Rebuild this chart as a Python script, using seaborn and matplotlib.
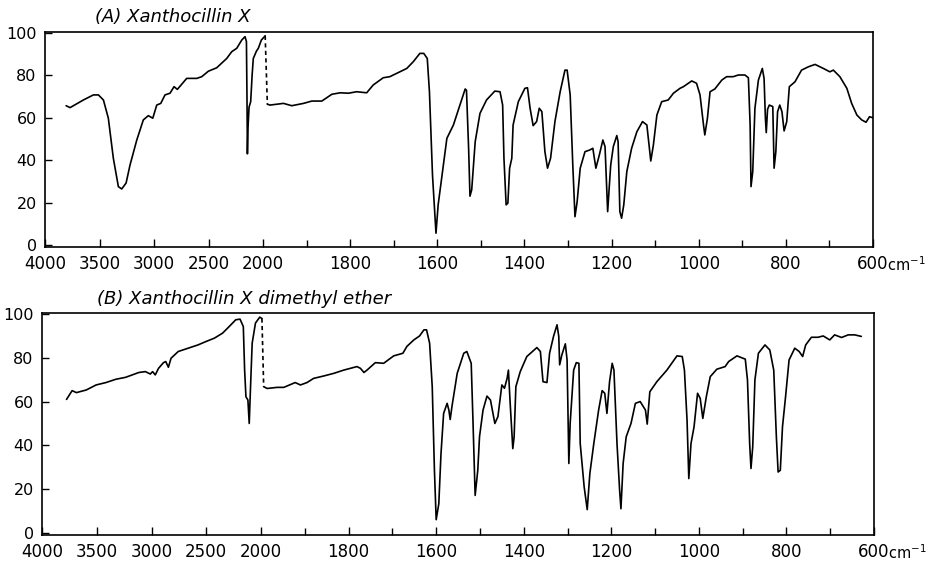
import numpy as np
import pandas as pd
import matplotlib
matplotlib.use("Agg")
import matplotlib.pyplot as plt
import seaborn as sns

# ---------------- data (wavenumber cm-1, % transmittance) ----------------
A_hi_w = [3806, 3770, 3648, 3556, 3510, 3464, 3419, 3373, 3327, 3296, 3256, 3220, 3158, 3098,
          3052, 3011, 2975, 2938, 2899, 2853, 2816, 2786, 2700, 2608, 2562, 2501, 2425, 2333,
          2287, 2241, 2195, 2165, 2152, 2147, 2143, 2138, 2128, 2113, 2100, 2089, 2060, 2043,
          2015, 1995]
A_hi_T = [65.7, 64.8, 68.4, 70.8, 70.8, 68.4, 59.8, 40.9, 27.5, 26.4, 29.2, 37.7, 49.5, 59.0,
          61.0, 59.8, 66.0, 66.8, 70.8, 71.6, 74.7, 73.4, 78.6, 78.6, 79.4, 82.0, 83.6, 88.0,
          91.2, 92.8, 96.7, 98.3, 96.0, 70.0, 43.0, 55.0, 65.0, 67.6, 80.0, 88.0, 91.5, 92.8,
          96.7, 98.7]
A_gap_w = [1995, 1990]
A_gap_T = [98.7, 66.4]
A_lo_w = [1990, 1984, 1953, 1934, 1907, 1888, 1865, 1842, 1823, 1804, 1785, 1762, 1747, 1724,
          1709, 1693, 1670, 1655, 1640, 1631, 1623, 1618, 1611, 1603, 1598, 1586, 1578, 1563,
          1548, 1536, 1533, 1528, 1525, 1521, 1513, 1502, 1487, 1468, 1456, 1450, 1447, 1442,
          1438, 1434, 1429, 1426, 1414, 1399, 1393, 1387, 1380, 1372, 1366, 1360, 1353, 1347,
          1340, 1330, 1318, 1307, 1302, 1295, 1289, 1284, 1279, 1272, 1261, 1250, 1243, 1236,
          1228, 1220, 1215, 1209, 1202, 1196, 1188, 1185, 1181, 1177, 1172, 1165, 1154, 1142,
          1129, 1119, 1110, 1104, 1096, 1085, 1070, 1058, 1043, 1035, 1016, 1005, 997, 989,
          986, 980, 974, 963, 947, 936, 921, 909, 894, 886, 882, 880, 876, 871, 863, 854,
          850, 847, 845, 842, 838, 830, 827, 823, 819, 814, 809, 804, 798, 792, 779, 764,
          748, 733, 714, 699, 691, 676, 660, 649, 637, 626, 616, 608, 600]
A_lo_T = [66.4, 66.0, 66.8, 65.7, 66.8, 67.9, 67.9, 71.1, 71.8, 71.6, 72.3, 71.8, 75.5, 78.9,
          79.4, 81.0, 83.3, 86.5, 90.4, 90.4, 88.0, 72.3, 33.0, 5.5, 18.9, 37.7, 50.3, 56.6,
          66.0, 73.6, 73.0, 45.0, 23.0, 26.0, 48.7, 62.1, 68.4, 72.6, 72.3, 66.0, 40.9, 18.9,
          19.7, 36.2, 40.9, 56.6, 67.6, 73.9, 74.2, 64.5, 56.3, 58.2, 64.5, 62.9, 44.0, 36.2,
          40.9, 58.2, 72.3, 82.5, 82.5, 70.8, 37.7, 13.3, 20.4, 36.2, 44.0, 44.8, 45.6, 36.2,
          42.5, 49.5, 46.4, 15.7, 37.7, 46.4, 51.6, 48.7, 15.7, 12.6, 18.9, 34.6, 45.6, 53.4,
          58.2, 56.6, 39.6, 47.2, 61.3, 67.6, 68.4, 71.6, 73.9, 74.7, 77.4, 76.3, 70.8, 56.6,
          51.9, 59.8, 72.3, 73.6, 77.8, 79.4, 79.4, 80.2, 80.2, 78.9, 56.6, 27.5, 34.6, 64.5, 77.8, 83.3,
          78.6, 60.0, 53.0, 64.0, 66.0, 65.3, 36.2, 44.0, 62.9, 66.0, 62.9, 53.8, 58.2, 74.7, 77.0, 82.5,
          84.1, 85.2, 83.3, 81.7, 82.5, 79.4, 73.9, 66.8, 61.3, 59.0, 57.9, 60.5, 60.0]

B_hi_w = [3776, 3725, 3686, 3596, 3506, 3416, 3326, 3236, 3116, 3056, 3011, 2990, 2966, 2936,
          2891, 2870, 2846, 2822, 2756, 2666, 2576, 2501, 2426, 2351, 2291, 2231, 2192, 2162,
          2150, 2138, 2120, 2108, 2096, 2081, 2051, 2012, 1998]
B_hi_T = [61.0, 65.0, 64.1, 65.3, 67.6, 68.7, 70.2, 71.1, 73.3, 73.7, 72.6, 73.7, 72.2, 75.2,
          77.8, 78.3, 75.7, 79.8, 82.9, 84.4, 85.9, 87.5, 89.0, 91.3, 94.3, 97.4, 97.7, 94.3,
          74.4, 62.2, 60.7, 50.0, 66.8, 86.7, 95.9, 98.6, 98.0]
B_gap_w = [1998, 1994]
B_gap_T = [98.0, 66.8]
B_lo_w = [1994, 1986, 1963, 1948, 1922, 1910, 1895, 1880, 1857, 1834, 1811, 1781, 1773, 1765,
          1758, 1739, 1720, 1697, 1676, 1667, 1651, 1638, 1628, 1622, 1615, 1609, 1604, 1600,
          1594, 1589, 1583, 1575, 1571, 1568, 1564, 1552, 1537, 1530, 1520, 1516, 1511, 1505,
          1501, 1493, 1484, 1476, 1466, 1459, 1450, 1444, 1438, 1435, 1431, 1425, 1422, 1418,
          1408, 1393, 1370, 1362, 1356, 1347, 1341, 1332, 1324, 1320, 1318, 1313, 1305, 1301,
          1297, 1294, 1286, 1280, 1274, 1271, 1262, 1255, 1249, 1240, 1229, 1221, 1215, 1210,
          1204, 1198, 1194, 1187, 1181, 1178, 1173, 1166, 1155, 1145, 1134, 1122, 1118, 1112,
          1096, 1073, 1050, 1038, 1033, 1027, 1023, 1018, 1011, 1003, 997, 991, 983, 974,
          959, 940, 932, 913, 894, 889, 884, 881, 877, 872, 864, 849, 838, 829, 823, 819,
          814, 809, 802, 794, 781, 771, 763, 756, 743, 728, 716, 701, 690, 674, 659, 644, 629]
B_lo_T = [66.8, 66.0, 66.5, 66.5, 68.7, 67.6, 68.7, 70.6, 71.7, 72.9, 74.4, 76.0, 75.2, 73.3,
          74.4, 77.8, 77.5, 80.9, 82.1, 85.2, 88.2, 90.0, 92.8, 92.8, 86.7, 66.8, 28.6, 6.0,
          13.3, 36.2, 54.6, 59.2, 56.1, 51.8, 57.7, 72.9, 82.1, 82.9, 77.5, 51.5, 17.1, 28.6,
          44.0, 56.1, 62.5, 60.7, 50.0, 53.1, 67.6, 66.1, 70.6, 74.4, 59.2, 38.5, 43.9, 66.8,
          73.7, 80.6, 84.7, 82.9, 69.1, 68.7, 82.1, 89.8, 95.1, 89.8, 76.8, 81.3, 86.4, 79.0,
          31.7, 50.0, 74.4, 77.8, 77.5, 40.8, 21.0, 10.6, 27.1, 40.8, 56.1, 65.0, 63.8, 54.6,
          69.1, 77.5, 74.4, 40.8, 19.4, 11.0, 31.7, 43.9, 50.0, 59.2, 60.0, 56.1, 49.7, 64.5,
          69.1, 74.4, 80.9, 80.6, 74.4, 51.5, 24.8, 40.8, 48.5, 63.8, 61.5, 52.3, 62.2, 71.4,
          74.8, 76.0, 78.3, 80.9, 79.4, 69.9, 40.8, 29.4, 39.3, 69.9, 82.1, 85.9, 83.6, 74.4, 43.9, 27.8,
          28.6, 48.5, 62.2, 79.0, 84.4, 82.9, 80.6, 85.9, 89.4, 89.4, 90.0, 88.2, 90.5, 89.3, 90.5, 90.5, 89.8]

titles = ["(A) Xanthocillin X", "(B) Xanthocillin X dimethyl ether"]
major_ticks = [4000, 3500, 3000, 2500, 2000, 1800, 1600, 1400, 1200, 1000, 800, 600]
minor_ticks = [1900, 1700, 1500, 1300, 1100, 900, 700]
y_ticks = [0, 20, 40, 60, 80, 100]

# ---------------- piecewise wavenumber scale (grating change at 2000) ----------------
K_LO = 610.0 / 1400.0
K_HI = 218.0 / 2000.0


def fwd(w):
    w = np.asarray(w, dtype=float)
    return np.where(w <= 2000, (w - 600.0) * K_LO, 1400.0 * K_LO + (w - 2000.0) * K_HI)


def inv(u):
    u = np.asarray(u, dtype=float)
    b = 1400.0 * K_LO
    return np.where(u <= b, 600.0 + u / K_LO, 2000.0 + (u - b) / K_HI)


sns.set_style("ticks")
plt.rcParams["font.family"] = ["DejaVu Sans"]
plt.rcParams["xtick.direction"] = "in"
plt.rcParams["ytick.direction"] = "in"
plt.rcParams["text.color"] = "black"
plt.rcParams["xtick.color"] = "black"
plt.rcParams["ytick.color"] = "black"
plt.rcParams["xtick.labelcolor"] = "black"
plt.rcParams["ytick.labelcolor"] = "black"

fig = plt.figure(figsize=(9.28, 5.63), dpi=100)
W, H = 928.0, 563.0
boxes = [(45, 32, 873, 247), (42, 313, 874, 535)]
title_pos = [(95, 17), (97, 299)]

panels = [
    (A_hi_w, A_hi_T, A_gap_w, A_gap_T, A_lo_w, A_lo_T),
    (B_hi_w, B_hi_T, B_gap_w, B_gap_T, B_lo_w, B_lo_T),
]

for i, (hw, hT, gw, gT, lw_, lT) in enumerate(panels):
    l, t, r, b = boxes[i]
    ax = fig.add_axes([l / W, 1 - b / H, (r - l) / W, (b - t) / H])
    ax.set_xscale("function", functions=(fwd, inv))
    df_hi = pd.DataFrame({"w": hw, "T": hT})
    df_lo = pd.DataFrame({"w": lw_, "T": lT})
    df_gap = pd.DataFrame({"w": gw, "T": gT})
    sns.lineplot(data=df_hi, x="w", y="T", ax=ax, color="black", lw=1.2,
                 sort=False, estimator=None)
    sns.lineplot(data=df_lo, x="w", y="T", ax=ax, color="black", lw=1.2,
                 sort=False, estimator=None)
    sns.lineplot(data=df_gap, x="w", y="T", ax=ax, color="black", lw=1.2,
                 sort=False, estimator=None, linestyle=(0, (2.5, 2)))
    ax.set_xlim(4000, 600)
    ax.set_ylim(-1, 100.5)
    ax.set_xticks(major_ticks)
    ax.set_xticklabels([str(v) for v in major_ticks])
    ax.set_xticks(minor_ticks, minor=True)
    ax.set_yticks(y_ticks)
    ax.set_yticklabels([str(v) for v in y_ticks])
    ax.set_xlabel("")
    ax.set_ylabel("")
    ax.tick_params(axis="x", which="major", length=6, width=1, pad=6, labelsize=12,
                   colors="black")
    ax.tick_params(axis="x", which="minor", length=5, width=1, colors="black")
    ax.tick_params(axis="y", which="major", length=5, width=1, pad=6, labelsize=11.5,
                   colors="black")
    for s in ax.spines.values():
        s.set_visible(True)
        s.set_linewidth(1.2)
        s.set_color("black")
    ax.annotate("cm$^{-1}$", xy=(1, 0), xycoords="axes fraction", xytext=(10, -6),
                textcoords="offset points", ha="left", va="top", fontsize=10.5,
                color="black")
    fig.text(title_pos[i][0] / W, 1 - title_pos[i][1] / H, titles[i], fontsize=13,
             fontstyle="italic", ha="left", va="center", color="black")

fig.savefig("out.png", dpi=100)
